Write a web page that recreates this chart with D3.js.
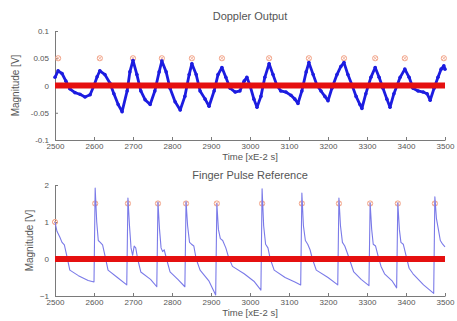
<!DOCTYPE html>
<html><head><meta charset="utf-8">
<script src="https://cdn.jsdelivr.net/npm/d3@7"></script>
<style>body{margin:0;background:#fff}svg{display:block}text{font-family:"Liberation Sans",Arial,sans-serif}</style>
</head><body><svg id="c" width="457" height="321"></svg>
<script>
// ---------- data ----------
const xTicks = [2500,2600,2700,2800,2900,3000,3100,3200,3300,3400,3500];
const dopplerYTicks = [0.1,0.05,0,-0.05,-0.1];
const pulseYTicks = [2,1,0,-1];
const threshold = [[2500,0],[3500,0]];

const dopplerT = [2500,2508,2518,2528,2538,2551,2564,2577,2590,2600,2608,2615,2628,2641,2651,2662,2672,2685,2692,2700,2710,2720,2731,2744,2756,2767,2774,2785,2795,2808,2821,2833,2844,2851,2862,2872,2885,2895,2908,2918,2928,2938,2949,2962,2974,2985,2992,3000,3010,3018,3028,3038,3049,3059,3069,3079,3092,3105,3115,3123,3133,3144,3151,3162,3172,3182,3192,3200,3210,3223,3233,3241,3251,3262,3272,3282,3287,3297,3310,3321,3331,3341,3351,3359,3369,3385,3397,3408,3418,3431,3444,3454,3462,3472,3482,3490,3497,3500];
const dopplerV = [0.015,0.027,0.022,0.008,-0.006,-0.013,-0.016,-0.021,-0.017,0.0,0.016,0.027,0.02,0.004,-0.015,-0.035,-0.048,-0.01,0.025,0.046,0.02,-0.01,-0.026,-0.035,-0.01,0.025,0.045,0.025,-0.005,-0.03,-0.045,-0.02,0.02,0.04,0.02,-0.01,-0.025,-0.038,-0.01,0.02,0.033,0.015,-0.005,-0.012,-0.01,0.008,0.015,0.0,-0.025,-0.04,-0.02,0.015,0.04,0.02,0.0,-0.01,-0.012,-0.018,-0.025,-0.033,-0.01,0.025,0.042,0.02,0.0,-0.01,-0.02,-0.028,-0.005,0.02,0.035,0.042,0.02,0.0,-0.02,-0.035,-0.042,-0.015,0.015,0.033,0.015,-0.005,-0.025,-0.04,-0.015,0.015,0.03,0.015,-0.005,-0.01,-0.012,-0.015,-0.027,-0.005,0.015,0.03,0.036,0.03];
const dopplerPeakT = [2508,2615,2700,2774,2851,2928,3049,3151,3241,3321,3397,3497];
const dopplerPeakV = [0.05,0.05,0.05,0.05,0.05,0.05,0.05,0.05,0.05,0.05,0.05,0.05];

const pulseT = [2500,2505,2512,2518,2524,2530,2538,2560,2585,2600,
 2603,2607,2611,2616,2622,2628,2636,2660,2684,
 2687,2691,2695,2699,2703,2707,2712,2720,2745,2761,
 2764,2768,2772,2776,2780,2786,2795,2815,2833,
 2836,2840,2845,2850,2856,2862,2872,2895,2912,
 2915,2919,2924,2930,2938,2945,2955,2985,3010,3028,
 3031,3035,3040,3046,3052,3062,3090,3115,3130,
 3133,3137,3142,3148,3154,3160,3170,3200,3225,
 3228,3232,3237,3243,3250,3258,3266,3285,3305,
 3308,3312,3316,3322,3328,3336,3345,3365,3376,
 3379,3383,3387,3393,3400,3408,3418,3445,3471,
 3474,3478,3483,3488,3494,3500];
const pulseV = [1.0,0.75,0.6,0.45,0.38,0.1,-0.3,-0.45,-0.58,-0.62,
 1.92,1.0,0.5,0.45,0.38,0.1,-0.3,-0.5,-0.7,
 1.65,0.9,0.3,0.1,0.35,0.3,0.0,-0.35,-0.55,-0.75,
 1.54,0.8,0.3,0.2,0.25,0.0,-0.35,-0.55,-0.75,
 1.55,0.9,0.45,0.4,0.35,0.0,-0.3,-0.6,-0.97,
 1.5,0.8,0.55,0.5,0.3,0.05,-0.2,-0.4,-0.6,-0.84,
 1.9,0.9,0.4,0.3,0.0,-0.3,-0.5,-0.62,-0.7,
 1.78,0.9,0.5,0.4,0.25,0.0,-0.3,-0.5,-0.7,
 1.65,0.9,0.45,0.35,0.15,-0.1,-0.35,-0.55,-0.72,
 1.52,0.8,0.4,0.35,0.1,-0.2,-0.4,-0.6,-0.78,
 1.52,0.8,0.45,0.4,0.1,-0.25,-0.4,-0.7,-0.93,
 1.68,1.1,0.8,0.5,0.4,0.33];
const pulsePeakT = [2500,2603,2687,2764,2836,2915,3031,3133,3228,3308,3379,3474];
const pulsePeakV = [1.0,1.5,1.5,1.5,1.5,1.5,1.5,1.5,1.5,1.5,1.5,1.5];

// ---------- drawing ----------
const svg = d3.select("#c");
const gray = "#7a7a7a", txt = "#555";

function panel(o){
  const x = d3.scaleLinear().domain([2500,3500]).range([55,445]);
  const y = d3.scaleLinear().domain(o.ydom).range([o.bottom,o.top]);
  const g = svg.append("g");
  const ax = g.append("g").attr("transform",`translate(0,${o.bottom})`)
    .call(d3.axisBottom(x).tickValues(xTicks).tickSizeInner(-3).tickSizeOuter(0).tickPadding(3).tickFormat(d3.format("d")));
  const ay = g.append("g").attr("transform",`translate(55,0)`)
    .call(d3.axisLeft(y).tickValues(o.yticks).tickSizeInner(-3).tickSizeOuter(0).tickPadding(6).tickFormat(o.fmt));
  [ax,ay].forEach(a=>{
    a.selectAll("path,line").attr("stroke",gray);
    a.selectAll("text").attr("fill",txt).style("font-size","8px");
  });
  const pts = o.t.map((t,i)=>[t,o.v[i]]);
  const line = d3.line().x(d=>x(d[0])).y(d=>y(d[1]));
  const pk = o.pt.map((t,i)=>[t,o.pv[i]]);
  const mk = g.append("g").selectAll("g").data(pk).join("g")
    .attr("transform",d=>`translate(${x(d[0])},${y(d[1])})`);
  mk.append("circle").attr("r",2.6).attr("fill","none").attr("stroke","#f2a58a").attr("stroke-width",1);
  mk.append("path").attr("d","M-2,-2L2,2M-2,2L2,-2").attr("stroke","#f2a58a").attr("stroke-width",0.8);
  g.append("path").datum(pts).attr("d",line).attr("fill","none")
    .attr("stroke",o.color).attr("stroke-width",o.sw).attr("stroke-linejoin","round");
  if(o.dots){
    g.append("g").selectAll("circle").data(pts).join("circle")
      .attr("cx",d=>x(d[0])).attr("cy",d=>y(d[1])).attr("r",1.8).attr("fill",o.color);
  }
  g.append("path").datum(threshold).attr("d",line).attr("fill","none")
    .attr("stroke","#e51010").attr("stroke-width",6);
  g.append("text").attr("x",250).attr("y",o.titleY).attr("text-anchor","middle")
    .attr("fill",txt).style("font-size","11px").text(o.title);
  g.append("text").attr("x",250).attr("y",o.bottom+20).attr("text-anchor","middle")
    .attr("fill",txt).style("font-size","9.5px").text("Time [xE-2 s]");
  g.append("text").attr("transform",`translate(${o.ylabX},${(o.top+o.bottom)/2}) rotate(-90)`)
    .attr("text-anchor","middle").attr("fill",txt).style("font-size","10px").text("Magnitude [V]");
}

panel({ydom:[-0.1,0.1], top:31, bottom:140, yticks:dopplerYTicks, fmt:d=>d===0?"0":String(d),
  t:dopplerT, v:dopplerV, pt:dopplerPeakT, pv:dopplerPeakV, color:"#1c1ce0", sw:2.8, dots:true,
  title:"Doppler Output", titleY:20, ylabX:19});
panel({ydom:[-1,2], top:185, bottom:296, yticks:pulseYTicks, fmt:d3.format("d"),
  t:pulseT, v:pulseV, pt:pulsePeakT, pv:pulsePeakV, color:"#7a7ae8", sw:1.1, dots:false,
  title:"Finger Pulse Reference", titleY:179, ylabX:33});
</script></body></html>
